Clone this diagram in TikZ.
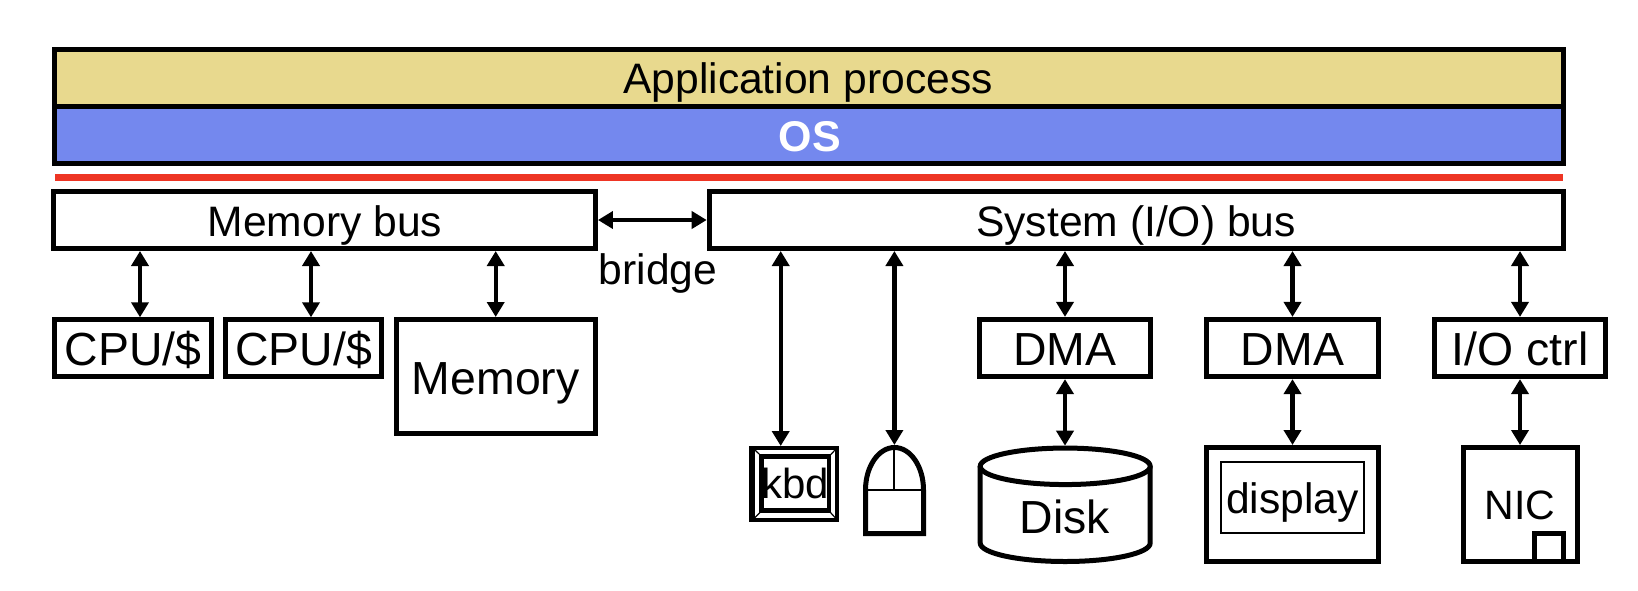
\documentclass[tikz,border=0pt]{standalone}
\usepackage{fontspec}
\setmainfont{Liberation Sans}
\usepackage{tikz}
\usetikzlibrary{arrows.meta}
\definecolor{appyellow}{HTML}{E8D98E}
\definecolor{osblue}{HTML}{7488EE}
\definecolor{linered}{HTML}{EE3524}
\tikzset{
  hwbox/.style={draw=black, line width=2.5pt, fill=white, inner sep=0pt},
  thinbox/.style={draw=black, line width=1pt},
  biarrow/.style={{Stealth[length=7.5pt,width=8.5pt,inset=0pt]}-{Stealth[length=7.5pt,width=8.5pt,inset=0pt]}, line width=2.2pt},
  lbl/.style={font=\fontsize{21.3}{25}\selectfont, inner sep=0pt, text height=16pt, text depth=0pt},
  biglbl/.style={font=\fontsize{23.2}{27}\selectfont, inner sep=0pt, text height=17.5pt, text depth=0pt}
}
\begin{document}
\begin{tikzpicture}[x=0.5pt, y=-0.5pt]
  \useasboundingbox (0,0) rectangle (1638,590);
  % OS layers
  \draw[hwbox, fill=appyellow] (54,49) rectangle (1563,106);
  \draw[hwbox, fill=osblue] (54,106) rectangle (1563,163);
  \node[lbl] (app) at (808,77.7) {Application process};
  \node[lbl, font=\fontsize{21.5}{25}\selectfont\bfseries, white] (os) at (810,135) {OS};
  \fill[linered] (54.5,174) rectangle (1562.5,181);

  % Buses
  \node[hwbox, minimum width=270.75pt, minimum height=28.5pt] (membus) at (324.7,220) {};
  \node[lbl] (membuslbl) at (325,220) {Memory bus};
  \node[hwbox, minimum width=427pt, minimum height=28.5pt] (sysbus) at (1136.2,220) {};
  \node[lbl] (sysbuslbl) at (1136,220) {System (I/O) bus};
  \draw[biarrow] (membus.east) -- (sysbus.west);
  \node[lbl] (bridge) at (658,268.7) {bridge};

  % Memory side
  \node[hwbox, biglbl, minimum width=78.3pt, minimum height=28.3pt] (cpua) at (133,348) {CPU/\$};
  \node[hwbox, biglbl, minimum width=78.3pt, minimum height=28.3pt] (cpub) at (303.5,348) {CPU/\$};
  \node[hwbox, biglbl, text height=18.4pt, minimum width=99.7pt, minimum height=57pt] (memory) at (495.7,376.5) {Memory};
  \coordinate (cpuatop) at (140,317.3);
  \coordinate (cpubtop) at (311,317.3);
  \foreach \n in {cpuatop,cpubtop,memory.north} {
    \draw[biarrow] (\n) -- (\n |- membus.south);
  }

  % I/O side
  \node[hwbox, biglbl, minimum width=85.2pt, minimum height=28.6pt] (dmaa) at (1065,348) {DMA};
  \node[hwbox, biglbl, minimum width=85.7pt, minimum height=28.6pt] (dmab) at (1292.5,348) {DMA};
  \node[hwbox, biglbl, minimum width=85.4pt, minimum height=28.6pt] (ioctrl) at (1520,348) {I/O ctrl};
  \node[hwbox, minimum width=85.7pt, minimum height=57.2pt] (display) at (1292.5,504.7) {};
  \node[thinbox, font=\fontsize{21.3}{25}\selectfont, inner sep=0pt, text height=15.3pt, text depth=0pt, minimum width=71.35pt, minimum height=35.65pt] (screen) at (1292.3,497.7) {display};
  \node[hwbox, minimum width=56.8pt, minimum height=57.2pt] (nic) at (1520.3,504.7) {};
  \node[lbl, font=\fontsize{20.5}{25}\selectfont] (niclbl) at (1520,503.3) {NIC};
  \draw[hwbox, fill=none] (1534.5,533) rectangle (1563.2,561.8);

  % Disk
  \draw[hwbox] (980.2,466.3) -- (980.2,543) arc[start angle=180, end angle=0, x radius=85, y radius=18.5] -- (1150.2,466.3);
  \draw[hwbox] (1065.2,466.3) ellipse[x radius=85, y radius=18.25];
  \coordinate (disktop) at (1065,445.7);
  \node[biglbl] (disk) at (1065,516.2) {Disk};

  % Keyboard
  \fill[black] (749.3,446) rectangle (839,521.7);
  \fill[white] (755,450) rectangle (835,517.5);
  \draw[line width=0.6pt] (755,450) -- (764.3,459) (835,450) -- (826.7,459)
    (755,517.5) -- (764.3,508.3) (835,517.5) -- (826.7,508.3);
  \fill[black] (758.5,453.5) rectangle (830.5,512.5);
  \fill[white] (764.3,459) rectangle (826.7,508.3);
  \node[lbl, font=\fontsize{21}{24}\selectfont] (kbd) at (795,482) {kbd};
  \coordinate (kbdtop) at (780.7,446);

  % Mouse
  \draw[hwbox] (865.5,533.5) -- (865.5,490) arc[start angle=180, end angle=360, x radius=29, y radius=42.5] -- (923.5,533.5) -- cycle;
  \draw[line width=1pt] (865.5,490) -- (923.5,490) (894.4,447.5) -- (894.4,490);
  \coordinate (mousetop) at (894.4,445);

  % Connectors
  \foreach \n in {kbdtop,mousetop,dmaa.north,dmab.north,ioctrl.north} {
    \draw[biarrow] (\n) -- (\n |- sysbus.south);
  }
  \draw[biarrow] (dmaa.south) -- (disktop);
  \draw[biarrow] (dmab.south) -- (display.north);
  \draw[biarrow] (ioctrl.south) -- (ioctrl.south |- nic.north);
\end{tikzpicture}
\end{document}
